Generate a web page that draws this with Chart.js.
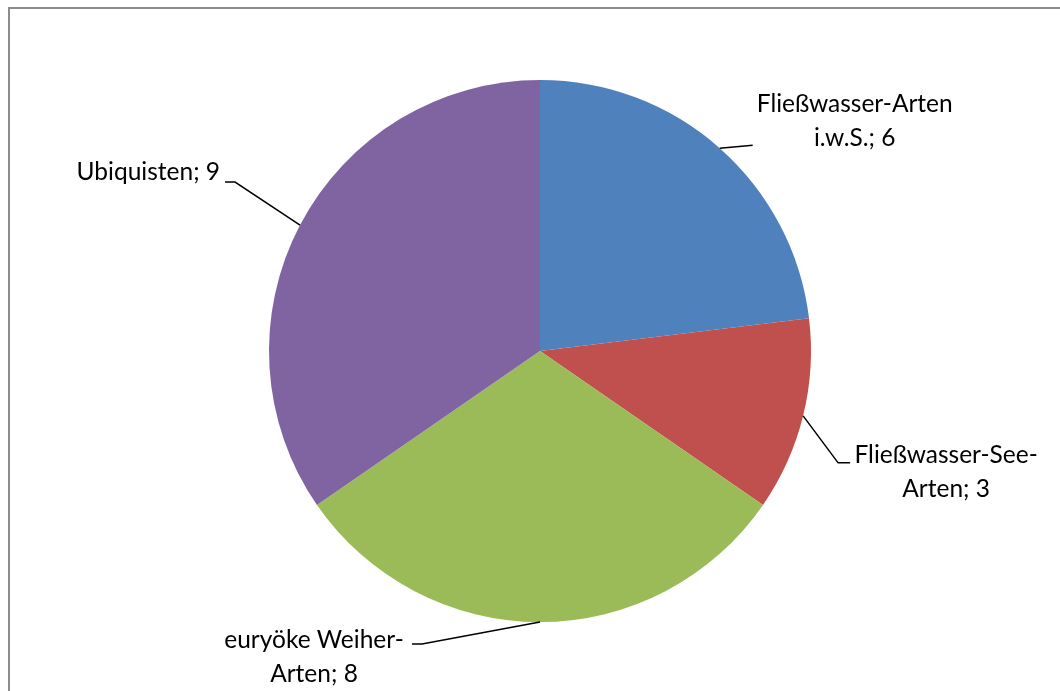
<!DOCTYPE html>
<html>
<head>
<meta charset="utf-8">
<script src="https://cdn.jsdelivr.net/npm/chart.js@4/dist/chart.umd.min.js"></script>
<style>
    html, body { margin: 0; padding: 0; background: #ffffff; }
    #wrap { width: 1060px; height: 691px; position: relative; }
</style>
</head>
<body>
<div id="wrap"><canvas id="myChart" width="1060" height="691"></canvas></div>
<script>
'use strict';

// category names, split where the label wraps
const categories = [
    ['Fließwasser-Arten', 'i.w.S.'],
    ['Fließwasser-See-', 'Arten'],
    ['euryöke Weiher-', 'Arten'],
    ['Ubiquisten']
];
const speciesCount = [6, 3, 8, 9];
const sliceColors = ['#4F81BD', '#C0504D', '#9BBB59', '#8064A2'];

// leader line bends (relative to the slice edge) and text placement (relative to the line end)
const labelLayout = [
    { bends: [[33, -3]], align: 'center', tx: 102, ty: -33 },
    { bends: [[35, 47], [47, 47]], align: 'center', tx: 96, ty: 0 },
    { bends: [[-118, 22], [-128, 22]], align: 'center', tx: -98, ty: 4 },
    { bends: [[-65, -43], [-75, -43]], align: 'right', tx: -5, ty: -2 }
];

const frame = {
    id: 'frame',
    beforeDraw(chart) {
        const ctx = chart.ctx;
        ctx.save();
        ctx.strokeStyle = '#8c8c8c';
        ctx.lineWidth = 2;
        ctx.strokeRect(9, 8, 1200, 1000);
        ctx.restore();
    }
};

const pieLabels = {
    id: 'pieLabels',
    afterDatasetsDraw(chart) {
        const ctx = chart.ctx;
        const meta = chart.getDatasetMeta(0);
        ctx.save();
        ctx.font = '24.5px Lato, "Liberation Sans", sans-serif';
        ctx.fillStyle = '#000000';
        ctx.strokeStyle = '#000000';
        ctx.lineWidth = 1.5;
        meta.data.forEach((arc, i) => {
            const p = arc.getProps(['x', 'y', 'startAngle', 'endAngle', 'outerRadius'], true);
            const mid = (p.startAngle + p.endAngle) / 2;
            const ex = p.x + Math.cos(mid) * p.outerRadius;
            const ey = p.y + Math.sin(mid) * p.outerRadius;
            const lay = labelLayout[i];
            ctx.beginPath();
            ctx.moveTo(ex, ey);
            lay.bends.forEach(b => ctx.lineTo(ex + b[0], ey + b[1]));
            ctx.stroke();
            const last = lay.bends[lay.bends.length - 1];
            const lx = ex + last[0] + lay.tx;
            const ly = ey + last[1] + lay.ty;
            const lines = categories[i].slice();
            lines[lines.length - 1] += '; ' + speciesCount[i];
            ctx.textAlign = lay.align;
            ctx.textBaseline = 'alphabetic';
            lines.forEach((t, k) => ctx.fillText(t, lx, ly + k * 34));
        });
        ctx.restore();
    }
};

new Chart(document.getElementById('myChart').getContext('2d'), {
    type: 'pie',
    data: {
        labels: categories.map(c => c.join(' ')),
        datasets: [{
            data: speciesCount,
            backgroundColor: sliceColors,
            borderWidth: 0
        }]
    },
    options: {
        responsive: false,
        animation: false,
        layout: {
            padding: { left: 269, right: 249, top: 80, bottom: 69 }
        },
        plugins: {
            legend: { display: false },
            tooltip: { enabled: false }
        }
    },
    plugins: [frame, pieLabels]
});
</script>
</body>
</html>
